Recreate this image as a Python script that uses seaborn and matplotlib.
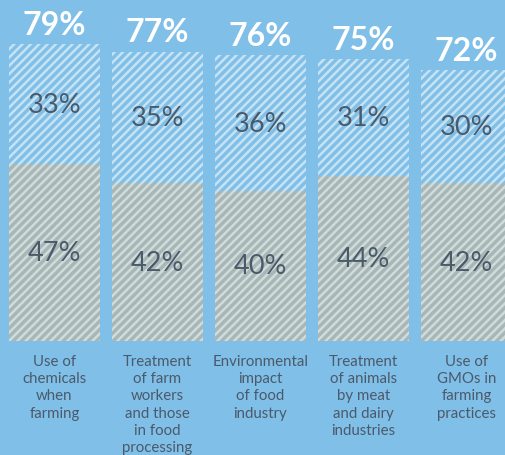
import pandas as pd
import matplotlib
matplotlib.use("Agg")
import matplotlib.pyplot as plt
import seaborn as sns

# values
categories = [
    "Use of\nchemicals\nwhen\nfarming",
    "Treatment\nof farm\nworkers\nand those\nin food\nprocessing",
    "Environmental\nimpact\nof food\nindustry",
    "Treatment\nof animals\nby meat\nand dairy\nindustries",
    "Use of\nGMOs in\nfarming\npractices",
]
total_pct = [79, 77, 76, 75, 72]
upper_pct = [33, 35, 36, 31, 30]
lower_pct = [47, 42, 40, 44, 42]

BG = "#80BFE8"
BLUE_STRIPE = "#C6E3F3"
GRAY = "#A8B6B6"
GRAY_STRIPE = "#D0DCDB"
TEXT = "#4B5A6A"

sns.set_style("white")
plt.rcParams["font.family"] = ["Lato", "DejaVu Sans"]
plt.rcParams["hatch.linewidth"] = 1.8

df = pd.DataFrame({"cat": categories, "total": total_pct,
                   "upper": upper_pct, "lower": lower_pct})

fig = plt.figure(figsize=(5.05, 4.56), dpi=100, facecolor=BG)
ax = fig.add_axes([0, 0, 1, 1], facecolor=BG)

# top (light blue) segment = full bar, gray drawn over it
sns.barplot(data=df, x="cat", y="total", color=BG, saturation=1, width=0.885,
            hatch="////", edgecolor=BLUE_STRIPE, linewidth=0, ax=ax)
sns.barplot(data=df, x="cat", y="lower", color=GRAY, saturation=1, width=0.885,
            hatch="////", edgecolor=GRAY_STRIPE, linewidth=0, ax=ax)

for i, row in df.iterrows():
    ax.text(i, row["lower"] / 2, f"{row['lower']}%", ha="center", va="center",
            fontsize=19.5, color=TEXT)
    ax.text(i, (row["lower"] + row["total"]) / 2, f"{row['upper']}%",
            ha="center", va="center", fontsize=19.5, color=TEXT)
    ax.annotate(f"{row['total']}%", (i, row["total"]), xytext=(0, 4),
                textcoords="offset points", ha="center", va="bottom",
                fontsize=23, fontweight="bold", color="white")
    # category label under the bar
    ax.annotate(row["cat"], (i, 0), xytext=(0, -9.5), textcoords="offset points",
                ha="center", va="top", fontsize=10.8, color=TEXT,
                linespacing=1.28)

ax.set_xlim(-0.529, 4.374)
ax.set_ylim(-30.3, 91)
ax.set_xlabel("")
ax.set_ylabel("")
ax.set_xticks([])
ax.set_yticks([])
for s in ax.spines.values():
    s.set_visible(False)

fig.savefig("out.png", dpi=100, facecolor=BG)
